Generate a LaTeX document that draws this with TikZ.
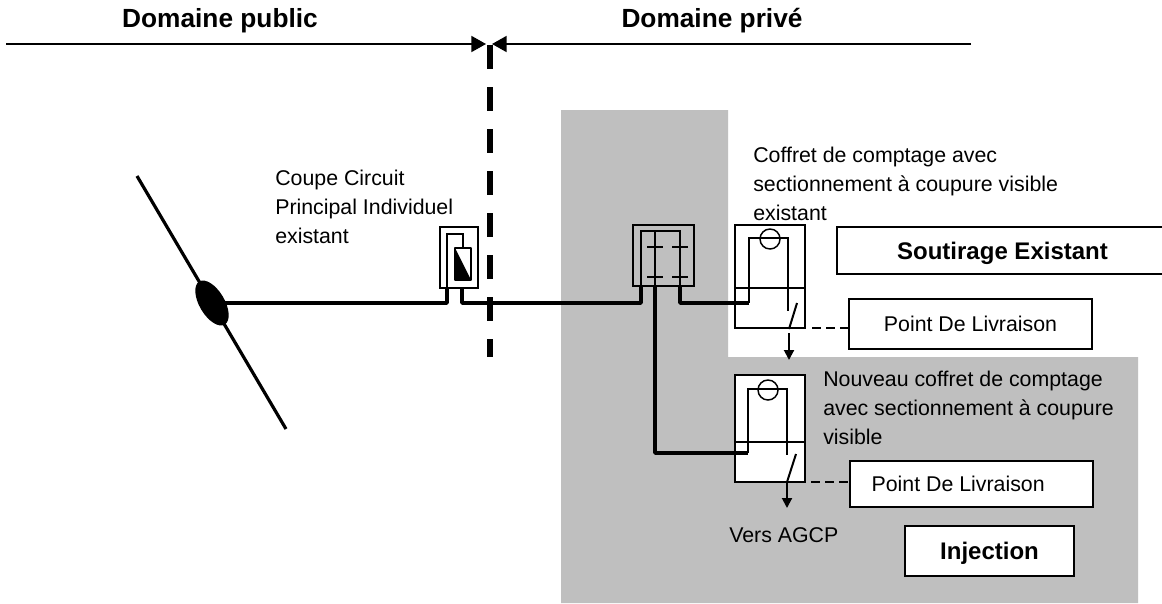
\documentclass[tikz,border=0pt]{standalone}
\usepackage{fontspec}
\setmainfont{Liberation Sans}
\usetikzlibrary{arrows.meta}
\definecolor{zone}{HTML}{BFBFBF}
\tikzset{
 x=0.75pt,y=-0.75pt,
 mid line/.style={line width=1.5pt},
 thick line/.style={line width=2.6pt,line join=round},
 wire box/.style={draw,line width=1.1pt,fill=white,inner sep=0pt},
 txt/.style={font=\fontsize{16}{21.6}\selectfont,align=left,anchor=north west,inner sep=0pt},
 head/.style={font=\bfseries\fontsize{19.7}{22}\selectfont,inner sep=0pt},
 labelbox/.style={draw=black,line width=1.1pt,fill=white,font=\fontsize{16}{20}\selectfont,inner sep=0pt,text depth=0pt},
 boldlabel/.style={labelbox,font=\bfseries\fontsize{18}{22}\selectfont},
 domainline/.style={line width=1.4pt,-{Triangle[length=11pt,width=12pt]}},
 arr/.style={line width=1.5pt,-{Triangle[length=7.5pt,width=7.5pt]}},
 sepbar/.style={line width=4.3pt,dash pattern=on 18pt off 13.5pt},
 dashline/.style={line width=1.1pt,dash pattern=on 7pt off 3.5pt},
}
\begin{document}
\begin{tikzpicture}
\useasboundingbox (0,0) rectangle (1162,603);
\fill[white] (0,0) rectangle (1162,603);
\fill[zone] (561,110) -- (728,110) -- (728,357) -- (1138,357) -- (1138,603) -- (561,603) -- cycle;

% headings
\node[head] (pub) at (220,21) {Domaine public};
\node[head] (prv) at (712,21) {Domaine privé};
\coordinate (la) at (6,44); \coordinate (ra) at (971,44);
\coordinate (ma) at (486,44); \coordinate (mb) at (492,44);
\draw[domainline] (la) -- (ma);
\draw[domainline] (ra) -- (mb);
\coordinate (bt) at (490,45); \coordinate (bb) at (490,357);
\draw[sepbar] (bt) -- (bb);

% network
\coordinate (n1) at (137,176); \coordinate (n2) at (286,429);
\draw[line width=2.4pt] (n1) -- (n2);
\fill[black,rotate around={-59.5:(212,303)}] (212,303) ellipse [x radius=25,y radius=12.6];
\coordinate (j) at (212,303);

% CCPI
\draw[thick line] (j) -- (447,303) -- (447,288);
\draw[thick line] (462,288) -- (462,303) -- (641,303) -- (641,286);
\node[wire box,minimum width=28.5pt,minimum height=45.75pt] (cc) at (459,257.5) {};
\draw[mid line] (447,288) -- (447,234) -- (463,234) -- (463,248);
\draw[mid line,fill=white,line join=round] (455,248) rectangle (471,280);
\fill[black] (455,248) -- (471,280) -- (455,280) -- cycle;

% distribution box
\node[wire box,fill=zone,line width=1.2pt,minimum width=45.75pt,minimum height=45.75pt] (db) at (663.5,255.5) {};
\draw[mid line] (641,286) -- (641,231) -- (680,231) -- (680,286);
\draw[mid line] (655,231) -- (655,286);
\foreach \yy in {247,277} {
  \draw[mid line] (647,\yy) -- (663,\yy);
  \draw[mid line] (672,\yy) -- (688,\yy);
}

% meter 1
\node[wire box,minimum width=52.5pt,minimum height=77.25pt] (m1) at (770,276.5) {};
\draw[line width=1.3pt] (m1.west |- 0,288) -- (m1.east |- 0,288);
\draw[thick line] (680,286) -- (680,303) -- (749,303);
\draw[mid line] (749,303) -- (749,238) -- (788,238) -- (788,311);
\node[circle,draw,line width=1.1pt,minimum size=15pt,inner sep=0pt] (c1) at (770,239) {};
\draw[mid line] (797,303) -- (789,329);
\coordinate (a1s) at (789,333); \coordinate (a1e) at (789,360);
\draw[arr] (a1s) -- (a1e);

% meter 2
\node[wire box,minimum width=52.5pt,minimum height=80.25pt] (m2) at (770,428.5) {};
\draw[line width=1.3pt] (m2.west |- 0,442) -- (m2.east |- 0,442);
\draw[thick line] (655,286) -- (655,453) -- (748,453);
\draw[mid line] (748,453) -- (748,389) -- (787,389) -- (787,455);
\node[circle,draw,line width=1.1pt,minimum size=15pt,inner sep=0pt] (c2) at (768,390) {};
\draw[mid line] (796,454) -- (787,482);
\coordinate (a2s) at (787,482); \coordinate (a2e) at (787,508);
\draw[arr] (a2s) -- (a2e);

% label boxes
\node[boldlabel,minimum width=253.5pt,minimum height=35.25pt] (se) at (1006,250.5) {Soutirage Existant\kern5.25pt};
\node[labelbox,minimum width=182pt,minimum height=37.5pt] (pl1) at (970.5,324) {Point De Livraison};
\node[labelbox,minimum width=182pt,minimum height=34.5pt] (pl2) at (971.5,484) {Point De Livraison\kern20pt};
\node[boldlabel,minimum width=126.75pt,minimum height=37.5pt] (inj) at (989.5,551) {Injection};
\coordinate (d1) at (812,328); \coordinate (d2) at (811,482);
\draw[dashline] (d1) -- (pl1.west |- d1);
\draw[dashline] (d2) -- (pl2.west |- d2);

% text
\node[txt] (t1) at (275,170) {Coupe Circuit\\Principal Individuel\\existant};
\node[txt] (t2) at (753,147) {Coffret de comptage avec\\sectionnement à coupure visible\\existant};
\node[txt] (t3) at (823,371) {Nouveau coffret de comptage\\avec sectionnement à coupure\\visible};
\node[txt] (t4) at (729,527) {Vers AGCP};
\end{tikzpicture}
\end{document}
